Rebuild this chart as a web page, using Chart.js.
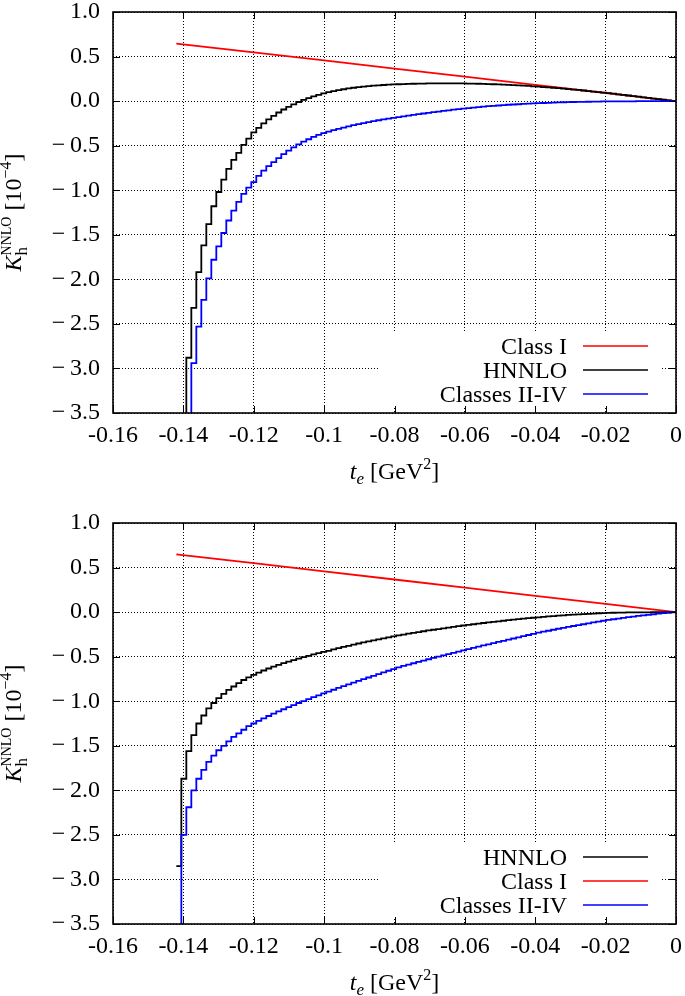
<!DOCTYPE html>
<html><head><meta charset="utf-8">
<script src="https://cdn.jsdelivr.net/npm/chart.js@4.4.1/dist/chart.umd.min.js"></script>
<style>
html,body{margin:0;padding:0;background:#fff;}
#wrap{position:relative;width:685px;height:996px;overflow:hidden;background:#fff;}
canvas{position:absolute;left:0;}
#c1{top:0}
#c2{top:511px}
</style></head><body>
<div id="wrap"><canvas id="c1" width="685" height="511"></canvas><canvas id="c2" width="685" height="485"></canvas></div>
<script>
// ---- data ----
const binStart = -0.142;
const binWidth = 0.00142;

const xTickValues = [-0.16, -0.14, -0.12, -0.1, -0.08, -0.06, -0.04, -0.02, 0];
const xTickLabels = ["-0.16", "-0.14", "-0.12", "-0.1", "-0.08", "-0.06", "-0.04", "-0.02", "0"];
const yTickValues = [-3.5, -3.0, -2.5, -2.0, -1.5, -1.0, -0.5, 0.0, 0.5, 1.0];
const yTickLabels = ["\u2212\u20093.5", "\u2212\u20093.0", "\u2212\u20092.5", "\u2212\u20092.0", "\u2212\u20091.5", "\u2212\u20091.0", "\u2212\u20090.5", "0.0", "0.5", "1.0"];

// top panel
const topClassI_t = [-0.142, -0.12, -0.1, -0.08, -0.06, -0.04, -0.02, 0];
const topClassI = [0.645, 0.548, 0.456, 0.365, 0.274, 0.182, 0.091, 0];
const topHNNLO = [
 -5.5, -3.9, -2.88, -2.32, -1.92, -1.62, -1.38, -1.18, -1.02, -0.88,
 -0.76, -0.66, -0.58, -0.49, -0.42, -0.35, -0.30, -0.25, -0.205, -0.165,
 -0.128, -0.094, -0.064, -0.036, -0.01, 0.013, 0.034, 0.053, 0.07, 0.086,
 0.10, 0.112, 0.123, 0.133, 0.142, 0.150, 0.157, 0.163, 0.168, 0.173,
 0.177, 0.181, 0.184, 0.187, 0.189, 0.191, 0.193, 0.195, 0.196, 0.197,
 0.198, 0.199, 0.199, 0.200, 0.200, 0.200, 0.199, 0.198, 0.197, 0.196,
 0.195, 0.193, 0.191, 0.189, 0.187, 0.185, 0.182, 0.179, 0.176, 0.173,
 0.170, 0.166, 0.162, 0.158, 0.154, 0.150, 0.145, 0.140, 0.135, 0.130,
 0.125, 0.119, 0.113, 0.107, 0.101, 0.095, 0.089, 0.083, 0.076, 0.070,
 0.063, 0.056, 0.050, 0.043, 0.036, 0.029, 0.022, 0.015, 0.009, 0.003
];
const topClassesIItoIV = [
 -6.0, -4.5, -3.8, -2.94, -2.53, -2.23, -1.99, -1.78, -1.63, -1.48,
 -1.34, -1.23, -1.13, -1.04, -0.97, -0.91, -0.84, -0.78, -0.73, -0.685,
 -0.64, -0.595, -0.555, -0.52, -0.485, -0.455, -0.428, -0.402, -0.38, -0.36,
 -0.342, -0.326, -0.311, -0.297, -0.283, -0.27, -0.258, -0.246, -0.235, -0.225,
 -0.215, -0.206, -0.197, -0.188, -0.180, -0.171, -0.163, -0.155, -0.147, -0.139,
 -0.131, -0.124, -0.117, -0.110, -0.103, -0.096, -0.090, -0.084, -0.078, -0.072,
 -0.067, -0.062, -0.057, -0.053, -0.049, -0.045, -0.041, -0.038, -0.035, -0.032,
 -0.029, -0.026, -0.023, -0.021, -0.019, -0.017, -0.015, -0.013, -0.012, -0.010,
 -0.009, -0.008, -0.007, -0.006, -0.005, -0.004, -0.004, -0.003, -0.003, -0.002,
 -0.002, -0.002, -0.001, -0.001, -0.001, -0.001, 0, 0, 0, 0
];

// bottom panel
const botClassI_t = [-0.142, -0.12, -0.1, -0.08, -0.06, -0.04, -0.02, 0];
const botClassI = [0.649, 0.550, 0.458, 0.366, 0.275, 0.183, 0.092, 0];
const botHNNLO = [
 -2.85, -1.87, -1.56, -1.38, -1.25, -1.16, -1.08, -1.02, -0.965, -0.918,
 -0.872, -0.835, -0.798, -0.762, -0.732, -0.704, -0.678, -0.655, -0.633, -0.612,
 -0.592, -0.573, -0.555, -0.538, -0.521, -0.505, -0.490, -0.475, -0.461, -0.447,
 -0.434, -0.419, -0.405, -0.391, -0.378, -0.365, -0.352, -0.340, -0.328, -0.317,
 -0.306, -0.295, -0.284, -0.273, -0.262, -0.252, -0.242, -0.233, -0.224, -0.215,
 -0.206, -0.198, -0.190, -0.182, -0.174, -0.166, -0.158, -0.150, -0.143, -0.136,
 -0.129, -0.122, -0.115, -0.109, -0.103, -0.097, -0.091, -0.085, -0.079, -0.073,
 -0.068, -0.063, -0.058, -0.053, -0.048, -0.044, -0.040, -0.036, -0.032, -0.028,
 -0.025, -0.022, -0.019, -0.016, -0.013, -0.011, -0.009, -0.007, -0.006, -0.005,
 -0.004, -0.003, -0.003, -0.002, -0.002, -0.001, -0.001, -0.001, 0, 0
];
const botClassesIItoIV = [
 -4.5, -2.50, -2.19, -2.00, -1.87, -1.77, -1.68, -1.61, -1.55, -1.50,
 -1.45, -1.40, -1.36, -1.32, -1.28, -1.25, -1.22, -1.193, -1.166, -1.140,
 -1.115, -1.090, -1.066, -1.043, -1.020, -0.998, -0.976, -0.955, -0.934, -0.913,
 -0.892, -0.871, -0.851, -0.831, -0.811, -0.791, -0.772, -0.753, -0.734, -0.715,
 -0.696, -0.677, -0.658, -0.639, -0.620, -0.604, -0.589, -0.574, -0.559, -0.544,
 -0.529, -0.514, -0.500, -0.486, -0.472, -0.458, -0.444, -0.430, -0.416, -0.402,
 -0.388, -0.374, -0.361, -0.348, -0.335, -0.322, -0.309, -0.296, -0.283, -0.270,
 -0.257, -0.244, -0.231, -0.220, -0.209, -0.198, -0.187, -0.176, -0.166, -0.156,
 -0.146, -0.136, -0.126, -0.116, -0.106, -0.097, -0.088, -0.080, -0.072, -0.064,
 -0.057, -0.050, -0.043, -0.036, -0.030, -0.024, -0.018, -0.012, -0.007, -0.002
];

const topLegendOrder = ["Class I", "HNNLO", "Classes II-IV"];
const botLegendOrder = ["HNNLO", "Class I", "Classes II-IV"];
const seriesColors = {"Class I": "#ff0000", "HNNLO": "#000000", "Classes II-IV": "#0000ff"};

// ---- helpers ----
const FONT = '"Liberation Serif", "DejaVu Serif", serif';
function histPoints(values) {
  const pts = values.map((v, k) => ({x: binStart + k * binWidth, y: v}));
  pts.push({x: binStart + values.length * binWidth, y: values[values.length - 1]});
  return pts;
}
function linePoints(xs, ys) { return xs.map((x, i) => ({x: x, y: ys[i]})); }

function drawRich(ctx, parts, cx, baseY) {
  let x = 0, prevStart = 0;
  const placed = [];
  for (const p of parts) {
    ctx.font = p.font;
    const w = ctx.measureText(p.text).width;
    const start = p.stack ? prevStart : x;
    placed.push({p: p, x: start});
    x = p.stack ? Math.max(x, start + w) : start + w;
    prevStart = start;
  }
  const x0 = cx - x / 2;
  ctx.textAlign = 'left';
  ctx.textBaseline = 'alphabetic';
  ctx.fillStyle = '#000';
  for (const it of placed) {
    ctx.font = it.p.font;
    ctx.fillText(it.p.text, x0 + it.x, baseY + (it.p.dy || 0));
  }
}

const xTitleParts = [
  {text: "t", font: "italic 24px " + FONT},
  {text: "e", font: "italic 17px " + FONT, dy: 5},
  {text: " [GeV", font: "24px " + FONT},
  {text: "2", font: "16px " + FONT, dy: -10},
  {text: "]", font: "24px " + FONT}
];
const yTitleParts = [
  {text: "K", font: "italic 24px " + FONT},
  {text: "h", font: "17px " + FONT, dy: 6},
  {text: "NNLO", font: "14px " + FONT, dy: -10, stack: true},
  {text: " [10", font: "24px " + FONT},
  {text: "\u22124", font: "16px " + FONT, dy: -10},
  {text: "]", font: "24px " + FONT}
];

function makeDecor(legendOrder) {
  return {
    id: 'decor',
    beforeDatasetsDraw(chart) {
      const ctx = chart.ctx, a = chart.chartArea;
      ctx.save();
      ctx.fillStyle = '#fff';
      ctx.fillRect(380, a.top + 321, 282, 74);
      ctx.font = "24px " + FONT;
      ctx.textAlign = 'right';
      ctx.textBaseline = 'alphabetic';
      legendOrder.forEach((name, i) => {
        const y = a.top + 334 + i * 24;
        ctx.fillStyle = '#000';
        ctx.fillText(name, 567, y + 8);
        ctx.strokeStyle = seriesColors[name];
        ctx.lineWidth = 1.5;
        ctx.beginPath();
        ctx.moveTo(583, y);
        ctx.lineTo(648, y);
        ctx.stroke();
      });
      ctx.restore();
    },
    afterDraw(chart) {
      const ctx = chart.ctx, a = chart.chartArea;
      const xs = chart.scales.x, ys = chart.scales.y;
      ctx.save();
      ctx.strokeStyle = '#000';
      ctx.lineWidth = 1;
      ctx.beginPath();
      xTickValues.forEach(v => {
        const px = Math.round(xs.getPixelForValue(v)) + 0.5;
        ctx.moveTo(px, a.bottom); ctx.lineTo(px, a.bottom - 7);
        ctx.moveTo(px, a.top); ctx.lineTo(px, a.top + 7);
      });
      yTickValues.forEach(v => {
        const py = Math.round(ys.getPixelForValue(v)) + 0.5;
        ctx.moveTo(a.left, py); ctx.lineTo(a.left + 7, py);
        ctx.moveTo(a.right, py); ctx.lineTo(a.right - 7, py);
      });
      ctx.stroke();
      ctx.lineWidth = 1.6;
      ctx.strokeRect(a.left, a.top, a.right - a.left, a.bottom - a.top);
      // axis titles
      drawRich(ctx, xTitleParts, (a.left + a.right) / 2, a.top + 467);
      ctx.translate(21, (a.top + a.bottom) / 2);
      ctx.rotate(-Math.PI / 2);
      drawRich(ctx, yTitleParts, 0, 0);
      ctx.restore();
    }
  };
}

function makeChart(canvasId, H, classI_t, classI, hnnlo, classes, legendOrder) {
  const tickFont = {family: FONT, size: 24, lineHeight: 1.2};
  return new Chart(document.getElementById(canvasId), {
    type: 'line',
    data: {
      datasets: [
        {label: "Classes II-IV", data: histPoints(classes), borderColor: seriesColors["Classes II-IV"], borderWidth: 1.8, stepped: true, pointRadius: 0, order: 0},
        {label: "HNNLO", data: histPoints(hnnlo), borderColor: seriesColors["HNNLO"], borderWidth: 1.8, stepped: true, pointRadius: 0, order: 1},
        {label: "Class I", data: linePoints(classI_t, classI), borderColor: seriesColors["Class I"], borderWidth: 1.8, pointRadius: 0, order: 2}
      ]
    },
    options: {
      responsive: false,
      animation: false,
      devicePixelRatio: 1,
      layout: {padding: {top: 12, right: 9, left: 0, bottom: 0}},
      plugins: {legend: {display: false}, tooltip: {enabled: false}},
      scales: {
        x: {
          type: 'linear', min: -0.16, max: 0,
          afterBuildTicks: s => { s.ticks = xTickValues.map(v => ({value: v})); },
          afterFit: s => { s.height = H - 413; s.paddingLeft = 0; s.paddingRight = 0; },
          ticks: {callback: (v, i) => xTickLabels[i], font: tickFont, color: '#000', padding: 8, maxRotation: 0, autoSkip: false},
          grid: {color: '#000', lineWidth: 1, drawTicks: false},
          border: {display: false, dash: [1, 2]}
        },
        y: {
          type: 'linear', min: -3.5, max: 1.0,
          afterBuildTicks: s => { s.ticks = yTickValues.map(v => ({value: v})); },
          afterFit: s => { s.width = 113; s.paddingTop = 0; s.paddingBottom = 0; },
          ticks: {callback: (v, i) => yTickLabels[i], font: tickFont, color: '#000', padding: 13, autoSkip: false},
          grid: {color: '#000', lineWidth: 1, drawTicks: false},
          border: {display: false, dash: [1, 2]}
        }
      }
    },
    plugins: [makeDecor(legendOrder)]
  });
}

makeChart('c1', 511, topClassI_t, topClassI, topHNNLO, topClassesIItoIV, topLegendOrder);
makeChart('c2', 485, botClassI_t, botClassI, botHNNLO, botClassesIItoIV, botLegendOrder);
</script>
</body></html>
